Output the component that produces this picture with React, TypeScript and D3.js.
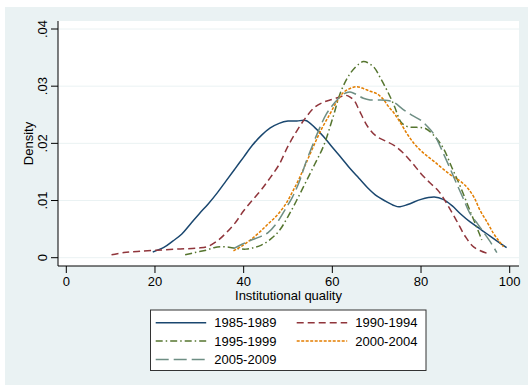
import React, { useRef, useEffect } from "react";
import * as d3 from "d3";

// kernel density curves
const x8589 = [19.5, 22, 24, 26, 28, 30, 32, 34, 36, 38, 40, 42, 44, 46, 48, 50, 52, 54, 56, 58, 60, 62, 64, 66, 68, 70, 72, 74, 75, 77, 80, 83, 85, 87, 89, 91, 93, 95, 97, 99.3];
const d8589 = [0.001, 0.0018, 0.0029, 0.0041, 0.0059, 0.0077, 0.0094, 0.0113, 0.0134, 0.0155, 0.0176, 0.0197, 0.0214, 0.0227, 0.0235, 0.0239, 0.0239, 0.024, 0.0228, 0.0212, 0.0193, 0.0175, 0.0156, 0.0139, 0.0122, 0.0108, 0.0099, 0.0091, 0.0089, 0.0093, 0.0102, 0.0106, 0.0102, 0.0091, 0.0076, 0.0063, 0.0052, 0.0041, 0.003, 0.00175];

const x9094 = [10.2, 13, 16, 20, 25, 30, 32, 34, 36, 38, 40, 42, 44, 46, 48, 50, 52, 54, 56, 58, 60, 62, 63, 64, 65, 66, 68, 70, 72, 74, 76, 78, 80, 82, 84, 86, 88, 90, 92, 94.8];
const d9094 = [0.0005, 0.0009, 0.0011, 0.0013, 0.0015, 0.0017, 0.002, 0.0029, 0.0043, 0.006, 0.0082, 0.0101, 0.0119, 0.014, 0.0163, 0.0195, 0.0222, 0.0245, 0.0263, 0.0272, 0.0277, 0.0282, 0.0284, 0.0281, 0.0274, 0.0259, 0.0229, 0.0212, 0.0204, 0.0196, 0.0183, 0.0166, 0.0147, 0.0131, 0.0116, 0.0092, 0.0065, 0.0037, 0.0018, 0.0008];

const x9599 = [26.8, 29, 31.7, 33.5, 35.5, 37, 38.5, 40.5, 42, 44, 46, 48, 50, 52, 54, 56, 58, 60, 62, 64, 66, 67, 68, 69.5, 71, 72.5, 74, 75.5, 77, 79, 81, 83, 85, 87, 89, 91, 93, 93.7];
const d9599 = [0.0005, 0.0009, 0.00135, 0.0018, 0.0019, 0.0018, 0.0016, 0.0015, 0.0017, 0.0022, 0.0032, 0.0047, 0.0072, 0.0101, 0.0132, 0.0163, 0.0195, 0.0242, 0.0292, 0.0322, 0.0339, 0.0343, 0.0341, 0.0332, 0.0312, 0.029, 0.0265, 0.0237, 0.0229, 0.0228, 0.0226, 0.0213, 0.0192, 0.0157, 0.0122, 0.0083, 0.0045, 0.0031];

const x0004 = [37.7, 39.5, 41.5, 43.5, 45.5, 47.5, 49.5, 51, 52.5, 54, 55.7, 57.5, 59.5, 61, 62.5, 64, 65.5, 67, 68.5, 70, 71.5, 72.5, 74, 75.5, 77, 78.5, 80, 81.5, 83, 85, 87, 89, 90.5, 92, 93.3, 95, 96.3, 97.5, 98.6];
const d0004 = [0.0012, 0.002, 0.0031, 0.0044, 0.0059, 0.0074, 0.0094, 0.0115, 0.0138, 0.0164, 0.0194, 0.0224, 0.0252, 0.0273, 0.0289, 0.0296, 0.0299, 0.0296, 0.0291, 0.0287, 0.0277, 0.0266, 0.0252, 0.0234, 0.0215, 0.0199, 0.0187, 0.0177, 0.0168, 0.0155, 0.0143, 0.0133, 0.0122, 0.0105, 0.0083, 0.0061, 0.0043, 0.003, 0.0019];

const x0509 = [37.7, 39.5, 41.5, 43.5, 45.5, 47.5, 49.5, 51, 52.5, 54, 55.7, 57.2, 58.7, 60.2, 61.7, 63, 64, 65.5, 67, 68.5, 70.5, 72.5, 74, 76, 78, 80, 81.5, 83, 85, 86.5, 88, 89.5, 91, 92.5, 93.5, 95.6, 97.1];
const d0509 = [0.0016, 0.0023, 0.003, 0.0036, 0.0044, 0.0061, 0.0086, 0.0106, 0.0132, 0.0166, 0.02, 0.0228, 0.0252, 0.0268, 0.0281, 0.0288, 0.029, 0.0285, 0.0279, 0.0276, 0.0276, 0.0275, 0.0271, 0.0259, 0.0249, 0.024, 0.0229, 0.0215, 0.0183, 0.0157, 0.013, 0.0104, 0.0078, 0.0062, 0.0051, 0.0028, 0.0009];

const periods = ["1985-1989", "1990-1994", "1995-1999", "2000-2004", "2005-2009"];
const xTicks = [0, 20, 40, 60, 80, 100];
const yTicks = [0, 0.01, 0.02, 0.03, 0.04];
const yTickLabels = ["0", ".01", ".02", ".03", ".04"];

const seriesX = [x8589, x9094, x9599, x0004, x0509];
const seriesD = [d8589, d9094, d9599, d0004, d0509];
const colors = ["#1a476f", "#90353b", "#55752f", "#e37e00", "#6e8e84"];
const dashes = ["none", "7 4", "7 3 1.5 3", "3 1.5", "13 5"];

function App() {
  const svgRef = useRef<SVGSVGElement>(null);

  const width = 528;
  const height = 385;
  const plot = { left: 58, right: 519, top: 21, bottom: 266 };
  const font = "'Liberation Sans', Arial, sans-serif";

  useEffect(() => {
    const svg = d3.select(svgRef.current);
    svg.selectAll("*").remove();

    const xScale = d3.scaleLinear().domain([0, 100]).range([66.3, 509.7]);
    const yScale = d3.scaleLinear().domain([0, 0.04]).range([257.7, 29]);

    // graph region + plot region
    svg.append("rect").attr("x", 5).attr("y", 7).attr("width", width - 5).attr("height", height - 7).attr("fill", "#eaf2f3");
    svg
      .append("rect")
      .attr("x", plot.left)
      .attr("y", plot.top)
      .attr("width", plot.right - plot.left)
      .attr("height", plot.bottom - plot.top)
      .attr("fill", "#ffffff");

    // gridlines
    svg
      .selectAll(".grid")
      .data(yTicks)
      .join("line")
      .attr("class", "grid")
      .attr("x1", plot.left)
      .attr("x2", plot.right)
      .attr("y1", (d) => yScale(d))
      .attr("y2", (d) => yScale(d))
      .attr("stroke", "#eaf2f3")
      .attr("stroke-width", 1);

    // curves
    const line = d3
      .line<[number, number]>()
      .x((p) => xScale(p[0]))
      .y((p) => yScale(p[1]))
      .curve(d3.curveCatmullRom.alpha(0.5));

    periods.forEach((name, i) => {
      const pts = seriesX[i].map((x, j) => [x, seriesD[i][j]] as [number, number]);
      svg
        .append("path")
        .attr("d", line(pts))
        .attr("fill", "none")
        .attr("stroke", colors[i])
        .attr("stroke-width", 1.5)
        .attr("stroke-dasharray", dashes[i]);
    });

    // y axis
    svg.append("line").attr("x1", plot.left).attr("x2", plot.left).attr("y1", plot.top).attr("y2", plot.bottom).attr("stroke", "#000").attr("stroke-width", 1);
    svg
      .selectAll(".ytick")
      .data(yTicks)
      .join("line")
      .attr("class", "ytick")
      .attr("x1", plot.left - 7)
      .attr("x2", plot.left)
      .attr("y1", (d) => yScale(d))
      .attr("y2", (d) => yScale(d))
      .attr("stroke", "#000");
    svg
      .selectAll(".ylabel")
      .data(yTicks)
      .join("text")
      .attr("class", "ylabel")
      .attr("transform", (d) => `translate(47,${yScale(d)}) rotate(-90)`)
      .attr("text-anchor", "middle")
      .attr("font-family", font)
      .attr("font-size", 13)
      .text((d, i) => yTickLabels[i]);
    svg
      .append("text")
      .attr("transform", `translate(32.5,${(plot.top + plot.bottom) / 2}) rotate(-90)`)
      .attr("text-anchor", "middle")
      .attr("font-family", font)
      .attr("font-size", 13)
      .text("Density");

    // x axis
    svg.append("line").attr("x1", plot.left).attr("x2", plot.right).attr("y1", plot.bottom).attr("y2", plot.bottom).attr("stroke", "#000");
    svg
      .selectAll(".xtick")
      .data(xTicks)
      .join("line")
      .attr("class", "xtick")
      .attr("x1", (d) => xScale(d))
      .attr("x2", (d) => xScale(d))
      .attr("y1", plot.bottom)
      .attr("y2", plot.bottom + 7)
      .attr("stroke", "#000");
    svg
      .selectAll(".xlabel")
      .data(xTicks)
      .join("text")
      .attr("class", "xlabel")
      .attr("x", (d) => xScale(d))
      .attr("y", 285.5)
      .attr("text-anchor", "middle")
      .attr("font-family", font)
      .attr("font-size", 13)
      .text((d) => String(d));
    svg
      .append("text")
      .attr("x", (plot.left + plot.right) / 2)
      .attr("y", 299.5)
      .attr("text-anchor", "middle")
      .attr("font-family", font)
      .attr("font-size", 13)
      .text("Institutional quality");

    // legend
    const lg = svg.append("g");
    lg.append("rect").attr("x", 150.5).attr("y", 310).attr("width", 275.5).attr("height", 60.5).attr("fill", "#fff").attr("stroke", "#333").attr("stroke-width", 1);
    const colX = [155.7, 296.7];
    const rowY = [322.7, 341, 359.5];
    periods.forEach((name, i) => {
      const cx = colX[i % 2];
      const cy = rowY[Math.floor(i / 2)];
      lg.append("line")
        .attr("x1", cx)
        .attr("x2", cx + 50.5)
        .attr("y1", cy)
        .attr("y2", cy)
        .attr("stroke", colors[i])
        .attr("stroke-width", 1.5)
        .attr("stroke-dasharray", dashes[i]);
      lg.append("text")
        .attr("x", cx + 58.5)
        .attr("y", cy + 4.5)
        .attr("font-family", font)
        .attr("font-size", 13)
        .text(name);
    });
  }, []);

  return <svg ref={svgRef} width={width} height={height} style={{ position: "absolute", left: 0, top: 0 }} />;
}

export default App;
